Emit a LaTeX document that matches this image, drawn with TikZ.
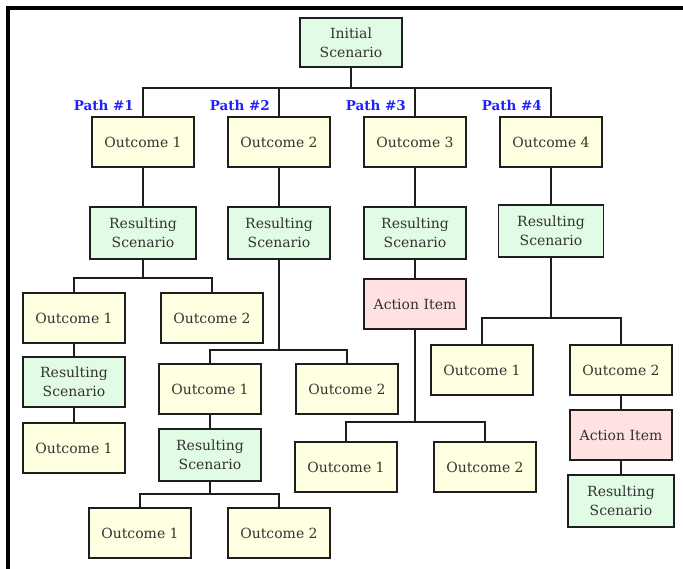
\documentclass[tikz,border=0pt]{standalone}
\usepackage{fontspec}
\setmainfont{DejaVu Serif}
\usetikzlibrary{calc,positioning}
\definecolor{Ink}{HTML}{1E1E1E}
\definecolor{Cream}{HTML}{FFFFE1}
\definecolor{Mint}{HTML}{E1FBE4}
\definecolor{Blush}{HTML}{FFE1E1}
\definecolor{PathBlue}{HTML}{1F1FFF}
\tikzset{
  outcome/.style={
    draw=Ink, line width=1.7pt, fill=Cream, text=black!80,
    minimum width=102pt, minimum height=50pt, inner sep=0pt,
    align=center, font=\fontsize{14}{19}\selectfont
  },
  scenario/.style={outcome, fill=Mint, minimum height=52pt},
  action/.style={outcome, fill=Blush},
  pathlabel/.style={
    anchor=east, inner sep=0pt, text=PathBlue,
    font=\fontsize{13.5}{15}\selectfont\bfseries
  },
  link/.style={draw=Ink, line width=1.7pt}
}

\begin{document}
\begin{tikzpicture}[x=1pt,y=-1pt]
        \useasboundingbox (0,0) rectangle (683,569);
        \fill (6,6) rectangle (683,10);
        \fill (6,6) rectangle (10,569);
        % top of the tree
        \node[scenario, minimum height=49pt] (init) at (351,42.5) {Initial\\Scenario};
        \coordinate (bus0) at (351,88);
        \node[outcome] (o1) at (143,142) {Outcome 1};
        \node[outcome] (o2) at (279,142) {Outcome 2};
        \node[outcome] (o3) at (415,142) {Outcome 3};
        \node[outcome] (o4) at (551,142) {Outcome 4};
        \foreach \i in {1,...,4}
          \node[pathlabel] (lab\i) at ($(o\i.north)+(-9,-11)$) {Path \#\i};
        \node[scenario, minimum width=106pt] (r1) at (143,233) {Resulting\\Scenario};
        \node[scenario] (r2) at (279,233) {Resulting\\Scenario};
        \node[scenario] (r3) at (415,233) {Resulting\\Scenario};
        \node[scenario, minimum width=105pt] (r4) at (551,231) {Resulting\\Scenario};
        % path 1
        \coordinate (bus1) at (143,278);
        \node[outcome] (o11) at (74,318) {Outcome 1};
        \node[outcome] (o12) at (212,318) {Outcome 2};
        \node[scenario, minimum height=50pt] (r11) at (74,382) {Resulting\\Scenario};
        \node[outcome] (o111) at (74,448) {Outcome 1};
        % path 2
        \coordinate (bus2) at (279,350);
        \node[outcome] (o21) at (210,389) {Outcome 1};
        \node[outcome] (o22) at (347,389) {Outcome 2};
        \node[scenario] (r21) at (210,455) {Resulting\\Scenario};
        \coordinate (bus21) at (210,494);
        \node[outcome] (o211) at (140,533) {Outcome 1};
        \node[outcome] (o212) at (279,533) {Outcome 2};
        % path 3
        \node[action] (a3) at (415,304) {Action Item};
        \coordinate (bus3) at (415,422);
        \node[outcome] (o31) at (346,467) {Outcome 1};
        \node[outcome] (o32) at (485,467) {Outcome 2};
        % path 4
        \coordinate (bus4) at (551,318);
        \node[outcome] (o41) at (482,370) {Outcome 1};
        \node[outcome] (o42) at (621,370) {Outcome 2};
        \node[action] (a4) at (621,435) {Action Item};
        \node[scenario, minimum width=106pt] (r42) at (621,501) {Resulting\\Scenario};
        % connectors
        \draw[link] (init) -- (bus0);
        \foreach \i in {1,...,4}
          \draw[link] (bus0) -| (o\i.north);
        \foreach \i in {1,...,4}
          \draw[link] (o\i) -- (r\i);
        \draw[link] (r1) -- (bus1);
        \draw[link] (bus1) -| (o11.north); \draw[link] (bus1) -| (o12.north);
        \draw[link] (o11) -- (r11); \draw[link] (r11) -- (o111);
        \draw[link] (r2) -- (bus2);
        \draw[link] (bus2) -| (o21.north); \draw[link] (bus2) -| (o22.north);
        \draw[link] (o21) -- (r21); \draw[link] (r21) -- (bus21);
        \draw[link] (bus21) -| (o211.north); \draw[link] (bus21) -| (o212.north);
        \draw[link] (r3) -- (a3); \draw[link] (a3) -- (bus3);
        \draw[link] (bus3) -| (o31.north); \draw[link] (bus3) -| (o32.north);
        \draw[link] (r4) -- (bus4);
        \draw[link] (bus4) -| (o41.north); \draw[link] (bus4) -| (o42.north);
        \draw[link] (o42) -- (a4); \draw[link] (a4) -- (r42);
      \end{tikzpicture}
\end{document}
